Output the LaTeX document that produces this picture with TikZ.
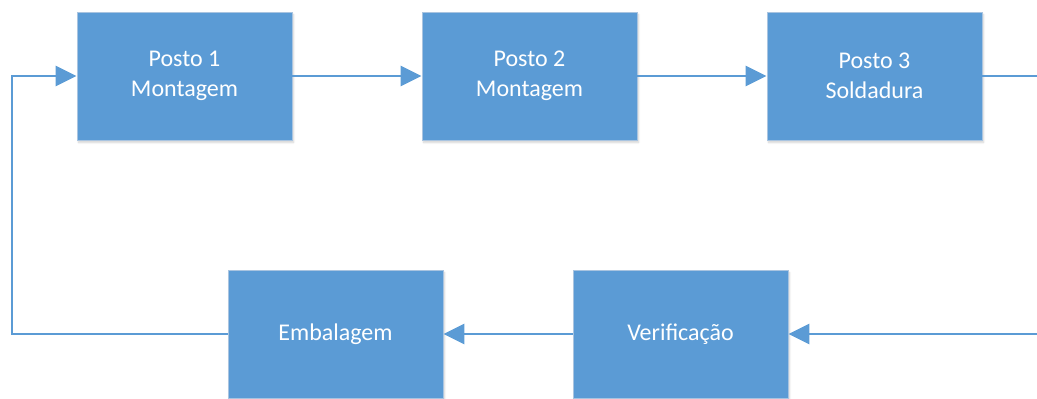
\documentclass[tikz,border=0pt]{standalone}
\usepackage{fontspec}
\setmainfont{Carlito}
\usetikzlibrary{arrows.meta,shadows.blur}
\definecolor{boxblue}{HTML}{5B9BD5}
\definecolor{boxedge}{HTML}{A9C4E0}
\begin{document}
\begin{tikzpicture}[x=1pt,y=-1pt,
  stationbox/.style={rectangle, fill=boxblue, draw=boxedge, line width=0.8pt,
    minimum width=215pt, minimum height=128pt, inner sep=0pt,
    text=white, align=center,
    font=\fontsize{24}{29.5}\selectfont,
    blur shadow={shadow xshift=1.5pt, shadow yshift=-2.5pt, shadow opacity=18, shadow blur steps=6}},
  flow/.style={draw=boxblue, line width=2.8pt,
    -{Triangle[length=21pt,width=20pt]}},
  plain/.style={draw=boxblue, line width=2.8pt}]
  \useasboundingbox (0,0) rectangle (1037,399);
  \begin{scope}
    \clip (0,0) rectangle (1037,399);
    % upper row of stations
    \node[stationbox] (p1) at (184.5,76) {Posto 1\\Montagem};
    \node[stationbox] (p2) at (529.5,76) {Posto 2\\Montagem};
    \node[stationbox] (p3) at (874.5,76) {Posto 3\\Soldadura};
    % lower row of stations
    \node[stationbox] (emb) at (335.5,334) {Embalagem};
    \node[stationbox] (ver) at (680.5,334) {Verificação};
    % free ends and corners of the loop
    \coordinate (outR) at (1040,76);
    \coordinate (inR) at (1040,334);
    \coordinate (cornerB) at (12,334);
    \coordinate (cornerT) at (12,76);
    % connectors
    \draw[flow] (p1.east) -- (p2.west);
    \draw[flow] (p2.east) -- (p3.west);
    \draw[plain] (p3.east) -- (outR);
    \draw[flow] (inR) -- (ver.east);
    \draw[flow] (ver.west) -- (emb.east);
    \draw[flow, line join=miter] (emb.west) -- (cornerB) -- (cornerT) -- (p1.west);
  \end{scope}
\end{tikzpicture}
\end{document}
